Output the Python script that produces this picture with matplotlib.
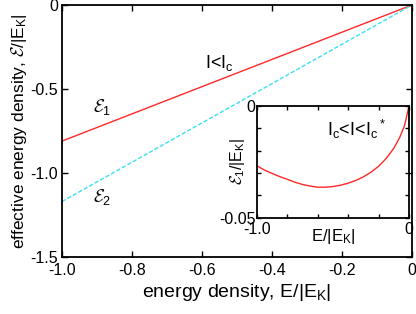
import numpy as np
import matplotlib
matplotlib.use('Agg')
import matplotlib.pyplot as plt

plt.rcParams['font.family'] = ['Liberation Sans', 'DejaVu Sans']
plt.rcParams['mathtext.fontset'] = 'custom'
plt.rcParams['mathtext.rm'] = 'Liberation Sans'
plt.rcParams['mathtext.it'] = 'Liberation Sans:italic'
plt.rcParams['mathtext.cal'] = 'cmsy10'

# main panel: two straight lines
e_main = [-1.0, 0.0]
eps1_main = [-0.81, 0.0]
eps2_main = [-1.17, 0.0]

main_xticks = [-1.0, -0.8, -0.6, -0.4, -0.2, 0.0]
main_xlabels = ['-1.0', '-0.8', '-0.6', '-0.4', '-0.2', '0']
main_yticks = [-1.5, -1.0, -0.5, 0.0]
main_ylabels = ['-1.5', '-1.0', '-0.5', '0']

# inset curve
e_ins = [-1.0, -0.95, -0.9, -0.85, -0.8, -0.75, -0.7, -0.65, -0.6, -0.55,
         -0.5, -0.45, -0.4, -0.35, -0.3, -0.25, -0.2, -0.15, -0.1, -0.06,
         -0.03, -0.015, 0.0]
eps1_ins = [-0.0268, -0.0287, -0.0302, -0.0316, -0.0328, -0.0341, -0.0351,
            -0.0358, -0.0363, -0.0363, -0.0360, -0.0354, -0.0345, -0.0333,
            -0.0317, -0.0296, -0.0270, -0.0235, -0.0190, -0.0140, -0.0090,
            -0.0048, 0.0]

ins_xticks = [-1.0, -0.8, -0.6, -0.4, -0.2, 0.0]
ins_xlabels = ['-1.0', '', '', '', '', '0']
ins_yticks = [-0.05, -0.04, -0.03, -0.02, -0.01, 0.0]
ins_ylabels = ['-0.05', '', '', '', '', '0']

fig = plt.figure(figsize=(4.16, 3.14), dpi=100)
ax = fig.add_axes([0.149, 0.1815, 0.841, 0.8025])
ax.plot(e_main, eps1_main, color='#ff2828', lw=1.0)
ax.plot(e_main, eps2_main, color='#38e0f0', lw=1.0, ls=(0, (3, 1.5)))
ax.set_xlim(-1.0, 0.0)
ax.set_ylim(-1.5, 0.0)
ax.set_xticks(main_xticks)
ax.set_xticklabels(main_xlabels)
ax.set_yticks(main_yticks)
ax.set_yticklabels(main_ylabels)
ax.tick_params(direction='in', top=True, right=True, labelsize=11.5, length=4, width=1, pad=3)
ax.tick_params(axis='x', pad=4)
for s in ax.spines.values():
    s.set_linewidth(1.3)
ax.set_xlabel(r'energy density, E/|E$_\mathrm{K}$|', fontsize=14, labelpad=3)
ax.set_ylabel(r'effective energy density, $\mathcal{E}$/|E$_\mathrm{K}$|', fontsize=12.5, labelpad=1)
ax.text(-0.885, -0.61, r'$\mathcal{E}_1$', fontsize=13, ha='center', va='center')
ax.text(-0.886, -1.14, r'$\mathcal{E}_2$', fontsize=13, ha='center', va='center')
ax.text(-0.59, -0.345, r'I<I$_\mathrm{c}$', fontsize=13, ha='left', va='center')

ins = fig.add_axes([0.618, 0.306, 0.365, 0.357])
ins.plot(e_ins, eps1_ins, color='#ff2828', lw=1.0)
ins.set_xlim(-1.0, 0.0)
ins.set_ylim(-0.05, 0.0)
ins.set_xticks(ins_xticks)
ins.set_xticklabels(ins_xlabels)
ins.set_yticks(ins_yticks)
ins.set_yticklabels(ins_ylabels)
ins.tick_params(direction='in', top=True, right=True, labelsize=11.5, length=3, width=1, pad=1)
ins.tick_params(axis='x', pad=3)
for s in ins.spines.values():
    s.set_linewidth(1.3)
ins.set_xlabel(r'E/|E$_\mathrm{K}$|', fontsize=12, labelpad=-7)
ins.set_ylabel(r'$\mathcal{E}_1$/|E$_\mathrm{K}$|', fontsize=11.5, labelpad=-20)
ins.text(-0.54, -0.0107, r'I$_\mathrm{c}$<I<I$_\mathrm{c}$$^*$', fontsize=13, ha='left', va='center')

fig.savefig('out.png', dpi=100)
